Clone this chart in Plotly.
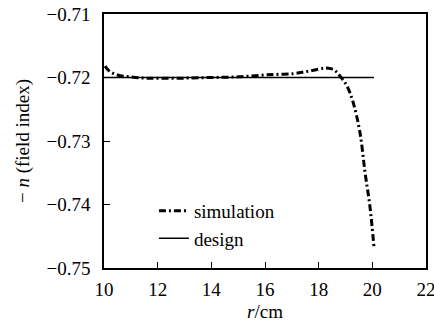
import plotly.graph_objects as go

# Simulation data
r_sim = [10.04, 10.2, 10.5, 10.97, 11.5, 12.0, 13.0, 14.0, 15.0, 16.0, 16.5, 17.06,
         17.5, 18.0, 18.24, 18.45, 18.61, 18.8, 19.05, 19.29, 19.54, 19.73, 19.91, 20.06]
n_sim = [-0.7182, -0.7190, -0.7196, -0.7199, -0.7201, -0.7201, -0.7201, -0.7200,
         -0.7199, -0.7196, -0.7195, -0.7194, -0.7191, -0.7187, -0.7185, -0.7186,
         -0.7189, -0.7198, -0.7213, -0.7240, -0.7287, -0.7350, -0.7403, -0.7466]

# Design data
r_design = [10.0, 20.06]
n_design = [-0.72, -0.72]

x_ticks = [10, 12, 14, 16, 18, 20, 22]
y_ticks = [-0.71, -0.72, -0.73, -0.74, -0.75]
y_ticklabels = ["\u22120.71", "\u22120.72", "\u22120.73", "\u22120.74", "\u22120.75"]

fig = go.Figure()
fig.add_trace(go.Scatter(x=r_sim, y=n_sim, mode="lines", name="simulation",
                         line=dict(color="black", width=3, dash="7px,3px,2px,3px", shape="spline")))
fig.add_trace(go.Scatter(x=r_design, y=n_design, mode="lines", name="design",
                         line=dict(color="black", width=1.5)))

font = dict(family="Liberation Serif", size=19, color="black")
legfont = dict(family="Liberation Serif", size=19, color="black")

fig.update_layout(
    width=434, height=322,
    margin=dict(l=104, r=8, t=14, b=54),
    paper_bgcolor="white", plot_bgcolor="white",
    font=font,
    showlegend=True,
    legend=dict(x=0.155, y=0.30, xanchor="left", yanchor="top",
                bgcolor="rgba(0,0,0,0)", borderwidth=0, font=legfont,
                tracegroupgap=0, itemwidth=30),
)
fig.update_xaxes(range=[10, 22], tickvals=x_ticks, ticks="inside", ticklen=6,
                 tickwidth=1, tickcolor="black", showline=True, linecolor="black",
                 linewidth=1.5, mirror=True, showgrid=False, zeroline=False,
                 ticklabelstandoff=3, automargin=False, ticklabeloverflow="allow",
                 title=dict(text="<i>r</i>/cm", font=font, standoff=12),
                 tickfont=font)
fig.update_yaxes(range=[-0.75, -0.71], tickvals=y_ticks, ticktext=y_ticklabels,
                 ticks="inside", ticklen=6, tickwidth=1, tickcolor="black",
                 showline=True, linecolor="black", linewidth=1.5, mirror=True,
                 showgrid=False, zeroline=False, ticklabelstandoff=8, automargin=False,
                 ticklabeloverflow="allow",
                 title=dict(text="\u2212 <i>n</i> (field index)", font=font, standoff=12),
                 tickfont=font)

fig.write_html("out.html")
